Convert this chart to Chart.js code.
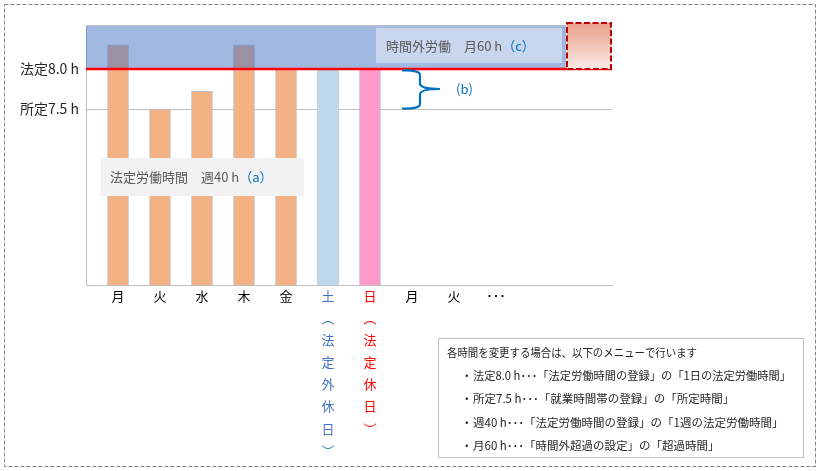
<!DOCTYPE html>
<html><head><meta charset="utf-8">
<script src="https://cdn.jsdelivr.net/npm/chart.js@4.4.1/dist/chart.umd.min.js"></script>
<style>html,body{margin:0;padding:0;background:#fff}canvas{display:block}</style>
</head><body>
<canvas id="c" width="820" height="471"></canvas>
<script>
// ---- data ----
const days = ['月','火','水','木','金','土','日','月','火','･･･'];
const dayNotes = ['', '', '', '', '', '（法定外休日）', '（法定休日）', '', '', ''];
const hours = [8.3, 7.5, 7.72, 8.3, 8.0, 8.0, 8.0, null, null, null];
const yTickValues = [7.5, 8.0];
const yTickLabels = ['所定7.5 h', '法定8.0 h'];
const legalDaily = 8.0;
const scheduledDaily = 7.5;
const weeklyLabel = ['法定労働時間　週40 h', '（a）'];
const monthlyLabel = ['時間外労働　月60 h', '（c）'];
const braceLabel = '(b)';
const notesTitle = '各時間を変更する場合は、以下のメニューで行います';
const notes = [
  '法定8.0 h･･･「法定労働時間の登録」の「1日の法定労働時間」',
  '所定7.5 h･･･「就業時間帯の登録」の「所定時間」',
  '週40 h･･･「法定労働時間の登録」の「1週の法定労働時間」',
  '月60 h･･･「時間外超過の設定」の「超過時間」'
];

// ---- styles ----
const barColors = ['#f4b183','#f4b183','#f4b183','#f4b183','#f4b183','#bdd7ee','#ff99cc','#f4b183','#f4b183','#f4b183'];
const tickColors = ['#000','#000','#000','#000','#000','#4472c4','#ff0000','#000','#000','#000'];
const FONT = '"Noto Sans CJK JP", "Noto Sans", sans-serif';
const X_MIN = -0.762, X_MAX = 11.762, Y_MIN = 5.3, Y_MAX = 8.55;
const OVERTIME_END = 10.667;

function tickLabel(i) {
  const lines = [days[i]];
  if (dayNotes[i]) {
    for (const ch of dayNotes[i]) lines.push(ch === '（' ? '︵' : ch === '）' ? '︶' : ch);
  }
  return lines;
}

const overlay = {
  id: 'overlay',
  afterDraw(chart) {
    const ctx = chart.ctx, xs = chart.scales.x, ys = chart.scales.y;
    const left = xs.getPixelForValue(X_MIN), right = xs.getPixelForValue(X_MAX);
    const oEnd = xs.getPixelForValue(OVERTIME_END);
    const yTop = ys.getPixelForValue(Y_MAX), yLegal = ys.getPixelForValue(legalDaily);
    const ySched = ys.getPixelForValue(scheduledDaily);
    ctx.save();
    // overtime band
    ctx.fillStyle = 'rgba(68,114,196,0.5)';
    ctx.fillRect(left, yTop, oEnd - left, yLegal - yTop);
    ctx.strokeStyle = '#bfbfbf'; ctx.lineWidth = 1;
    ctx.beginPath(); ctx.moveTo(left, yTop + 0.5); ctx.lineTo(oEnd, yTop + 0.5); ctx.stroke();
    // red legal line
    ctx.strokeStyle = '#ff0000'; ctx.lineWidth = 2.5;
    ctx.beginPath(); ctx.moveTo(left, yLegal); ctx.lineTo(right, yLegal); ctx.stroke();
    // excess box
    const bTop = yTop - 2;
    const g = ctx.createLinearGradient(0, bTop, 0, yLegal);
    g.addColorStop(0, '#eb9f8a'); g.addColorStop(1, '#fbebe6');
    ctx.fillStyle = g;
    ctx.fillRect(oEnd + 1, bTop, right - oEnd - 2, yLegal - bTop);
    ctx.strokeStyle = '#c00000'; ctx.lineWidth = 2; ctx.setLineDash([6, 2.5]);
    ctx.strokeRect(oEnd + 1, bTop, right - oEnd - 2, yLegal - bTop);
    ctx.setLineDash([]);
    // monthly label box
    ctx.fillStyle = 'rgba(255,255,255,0.42)';
    ctx.fillRect(376, yTop + 3, 186, 35);
    ctx.font = '13px ' + FONT; ctx.textBaseline = 'middle'; ctx.textAlign = 'left';
    ctx.fillStyle = '#595959';
    ctx.fillText(monthlyLabel[0], 386, yTop + 21);
    let w = ctx.measureText(monthlyLabel[0]).width;
    ctx.fillStyle = '#0070c0';
    ctx.fillText(monthlyLabel[1], 386 + w, yTop + 21);
    // weekly label box
    ctx.fillStyle = '#f2f2f2';
    ctx.fillRect(101, 158, 203, 38);
    ctx.fillStyle = '#595959';
    ctx.fillText(weeklyLabel[0], 110, 177);
    w = ctx.measureText(weeklyLabel[0]).width;
    ctx.fillStyle = '#0070c0';
    ctx.fillText(weeklyLabel[1], 110 + w, 177);
    // brace
    const mid = (yLegal + ySched) / 2;
    ctx.strokeStyle = '#0070c0'; ctx.lineWidth = 2.2;
    ctx.beginPath();
    ctx.moveTo(402, yLegal + 1.5);
    ctx.quadraticCurveTo(420, yLegal + 1, 420, yLegal + 6);
    ctx.lineTo(420, mid - 5);
    ctx.quadraticCurveTo(421, mid, 440, mid);
    ctx.moveTo(402, ySched - 0.5);
    ctx.quadraticCurveTo(420, ySched, 420, ySched - 5);
    ctx.lineTo(420, mid + 5);
    ctx.quadraticCurveTo(421, mid, 440, mid);
    ctx.stroke();
    ctx.fillStyle = '#0070c0'; ctx.font = '13px ' + FONT;
    ctx.fillText(braceLabel, 456, mid);
    // notes box
    ctx.fillStyle = '#fff'; ctx.fillRect(438, 338, 365, 119);
    ctx.strokeStyle = '#bfbfbf'; ctx.lineWidth = 1;
    ctx.strokeRect(438.5, 338.5, 365, 119);
    ctx.fillStyle = '#262626'; ctx.font = '11.5px ' + FONT;
    ctx.fillText(notesTitle, 447, 353, 250);
    const ny = [376, 399, 423, 446];
    notes.forEach((t, i) => {
      ctx.fillText('・', 461, ny[i]);
      ctx.fillText(t, 473, ny[i], 318);
    });
    // outer dashed frame
    ctx.strokeStyle = '#808080'; ctx.lineWidth = 1; ctx.setLineDash([4, 2]);
    ctx.strokeRect(4.5, 4.5, 811, 462);
    ctx.restore();
  }
};

new Chart(document.getElementById('c'), {
  type: 'bar',
  data: {
    datasets: [{
      data: days.map((d, i) => ({ x: i, y: hours[i] })),
      backgroundColor: barColors,
      borderColor: '#b8bfcc',
      borderWidth: 1,
      borderSkipped: 'bottom',
      barThickness: 21
    }]
  },
  options: {
    responsive: false,
    devicePixelRatio: 1,
    animation: false,
    layout: { padding: { top: 25, right: 208, left: 0, bottom: 0 } },
    plugins: { legend: { display: false }, tooltip: { enabled: false } },
    scales: {
      x: {
        type: 'linear', min: X_MIN, max: X_MAX, offset: false,
        afterBuildTicks: (a) => { a.ticks = days.map((d, i) => ({ value: i })); },
        afterFit: (a) => { a.height = 186; },
        grid: { display: false, drawTicks: false },
        border: { color: '#bfbfbf' },
        ticks: {
          autoSkip: false, maxRotation: 0, padding: 0,
          font: { family: FONT, size: 13, lineHeight: 1.7 },
          color: (c) => tickColors[c.index],
          callback: (v) => tickLabel(v)
        }
      },
      y: {
        min: Y_MIN, max: Y_MAX, z: 1,
        afterBuildTicks: (a) => { a.ticks = yTickValues.map(v => ({ value: v })); },
        afterFit: (a) => { a.width = 86; },
        grid: { color: '#bfbfbf', drawTicks: false },
        border: { color: '#bfbfbf' },
        ticks: {
          padding: 7, color: '#262626',
          font: { family: FONT, size: 14 },
          callback: (v) => yTickLabels[yTickValues.indexOf(v)]
        }
      }
    }
  },
  plugins: [overlay]
});
</script>
</body></html>
